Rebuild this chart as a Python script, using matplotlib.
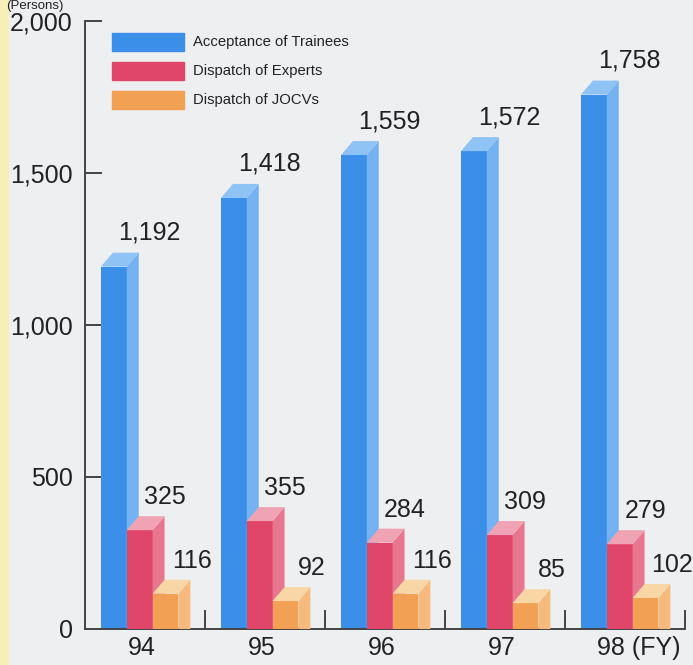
import numpy as np
import matplotlib
matplotlib.use('Agg')
import matplotlib.pyplot as plt
from matplotlib.patches import Polygon, Rectangle
from matplotlib.transforms import blended_transform_factory

plt.rcParams['font.family'] = ['Liberation Sans', 'DejaVu Sans']

years = ['94', '95', '96', '97', '98']
trainees = [1192, 1418, 1559, 1572, 1758]
experts = [325, 355, 284, 309, 279]
jocvs = [116, 92, 116, 85, 102]
series_names = ['Acceptance of Trainees', 'Dispatch of Experts', 'Dispatch of JOCVs']

# front, side, top shades per series
colors = [('#3b8fe8', '#74b2f2', '#8fc3f5'),
          ('#e0456a', '#e9768f', '#f0a3b3'),
          ('#f2a054', '#f6bb7c', '#f9d6a6')]

W, H = 693, 665
fig = plt.figure(figsize=(W / 100, H / 100), dpi=100)
fig.patch.set_facecolor('#eeeff1')
fig.patches.append(Rectangle((0, 0), 8 / W, 1, transform=fig.transFigure,
                             color='#f6efb8', zorder=-5))

px_per_unit = 0.304   # pixels per person on the y axis
ax = fig.add_axes([85 / W, 36 / H, (W - 85) / W, 629 / H])
ax.set_facecolor('none')
ax.set_xlim(-0.5, (W - 85) / 120 - 0.5)
ax.set_ylim(0, 629 / px_per_unit)

bw = 0.215            # bar width (group = 1)
dx = 0.1              # depth in x
dy = 14 / px_per_unit # depth in y
offsets = [-0.367, -0.152, 0.063]
label_dx = [0.40, 0.32, 0.33]
label_dy = [112, 108, 108]

x = np.arange(len(years))
for s, vals in enumerate([trainees, experts, jocvs]):
    front, side, top = colors[s]
    for i, v in enumerate(vals):
        x0 = x[i] + offsets[s]
        z = 2 + s
        ax.add_patch(Rectangle((x0, 0), bw, v, facecolor=front, edgecolor='none', zorder=z))
        ax.add_patch(Polygon([(x0 + bw, 0), (x0 + bw + dx, 0), (x0 + bw + dx, v + dy), (x0 + bw, v)],
                             closed=True, facecolor=side, edgecolor='none', zorder=z))
        ax.add_patch(Polygon([(x0, v), (x0 + dx, v + dy), (x0 + bw + dx, v + dy), (x0 + bw, v)],
                             closed=True, facecolor=top, edgecolor='none', zorder=z))
        ax.text(x0 + label_dx[s], v + label_dy[s], f'{v:,}', ha='center', va='center',
                fontsize=18, color='#222222', zorder=10)

for sp in ['top', 'right']:
    ax.spines[sp].set_visible(False)
for sp in ['left', 'bottom']:
    ax.spines[sp].set_color('#444444')
    ax.spines[sp].set_linewidth(1.4)
ax.spines['left'].set_bounds(0, 2000)
ax.spines['bottom'].set_bounds(-0.5, 4.5)

ax.set_yticks([0, 500, 1000, 1500, 2000])
ax.set_yticklabels(['0', '500', '1,000', '1,500', '2,000'])
ax.tick_params(axis='y', direction='in', length=12, width=1.4, color='#444444',
               labelsize=18, labelcolor='#222222', pad=9)
ax.yaxis.get_major_ticks()[0].tick1line.set_visible(False)

ax.set_xticks(x[:-1] - 0.03)
ax.set_xticklabels(years[:-1])
ax.tick_params(axis='x', length=0, labelsize=18, labelcolor='#222222', pad=5)
trans = blended_transform_factory(ax.transData, ax.transAxes)
ax.text((597 - 85) / 120 - 0.5, -7 / 629, '98 (FY)',
        transform=trans, ha='left', va='top', fontsize=18, color='#222222')
ax.set_xticks(np.arange(0.5, 5, 1.0), minor=True)
ax.tick_params(axis='x', which='minor', direction='in', length=14, width=1.4, color='#444444')

# legend
for s, name in enumerate(series_names):
    yc = 1 - (42 + 29 * s) / H
    fig.patches.append(Rectangle((112 / W, yc - 9 / H), 72 / W, 18 / H,
                                 transform=fig.transFigure, color=colors[s][0], zorder=5))
    fig.text(193 / W, yc, name, fontsize=10.7, color='#222222', va='center', ha='left')

fig.text(6 / W, 1, '(Persons)', fontsize=9.5, color='#222222', va='top', ha='left')

fig.savefig('out.png', dpi=100, facecolor=fig.get_facecolor())
